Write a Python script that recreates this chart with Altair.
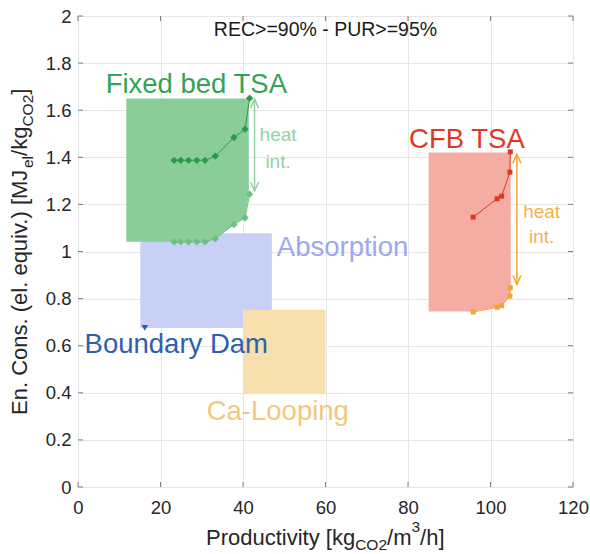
import altair as alt
import pandas as pd

FONT = "Liberation Sans"
W, H = 495, 471

# ---- fixed-bed TSA: without / with heat integration -------------------------
fb_x = [23.3, 24.9, 26.8, 28.8, 30.8, 33.3, 37.8, 40.5, 41.6]
fb_y_noint = [1.387, 1.387, 1.387, 1.387, 1.387, 1.405, 1.484, 1.519, 1.651]
fb_y_int = [1.041, 1.041, 1.041, 1.041, 1.041, 1.054, 1.115, 1.143, 1.243]
# envelope of the fixed-bed region
fb_env_x = [11.7, 30.8, 33.3, 37.8, 40.5, 41.4]
fb_env_low = [1.041, 1.041, 1.054, 1.115, 1.143, 1.243]
fb_env_high = 1.65

# ---- CFB TSA: without / with heat integration -------------------------------
cfb_x = [95.8, 101.6, 102.7, 104.7, 104.8]
cfb_y_noint = [1.146, 1.224, 1.235, 1.337, 1.423]
cfb_y_int = [0.743, 0.763, 0.770, 0.810, 0.846]
cfb_env_x = [85.0, 95.8, 101.6, 102.7, 104.7, 104.9]
cfb_env_low = [0.745, 0.745, 0.763, 0.770, 0.810, 0.846]
cfb_env_high = 1.42

# ---- benchmark technologies ---------------------------------------------------
bench_names = ["Absorption", "Ca-Looping"]
bench_x1 = [15.1, 40.0]
bench_x2 = [47.0, 60.0]
bench_y1 = [0.675, 0.396]
bench_y2 = [1.077, 0.753]
bench_colors = ["#c8d0f6", "#f7dfae"]

boundary_dam_x = [16.2]
boundary_dam_y = [0.676]

# ---- heat-integration arrows -------------------------------------------------
arrow_x = [42.8, 106.4]
arrow_top = [1.647, 1.413]
arrow_bottom = [1.257, 0.86]
arrow_colors = ["#94d3a4", "#f5a52f"]

x_ticks = [0, 20, 40, 60, 80, 100, 120]
y_ticks = [0, 0.2, 0.4, 0.6, 0.8, 1.0, 1.2, 1.4, 1.6, 1.8, 2.0]

GREEN_DARK = "#2b9a4c"
GREEN_LIGHT = "#6dbf83"
RED = "#e0381f"
ORANGE = "#f5a52f"

xs = alt.Scale(domain=[0, 120], nice=False, zero=False)
ys = alt.Scale(domain=[0, 2], nice=False, zero=False)
x_axis = alt.Axis(values=x_ticks, title=None, grid=True, domain=False, ticks=False,
                  labelPadding=11, labelFontSize=18.5, labelFont=FONT,
                  labelColor="#262626", gridColor="#e6e6e6", labelFlush=False)
y_axis = alt.Axis(values=y_ticks, title=None, grid=True, domain=False, ticks=False,
                  format="~g", labelPadding=7, labelFontSize=18.5, labelFont=FONT,
                  labelColor="#262626", gridColor="#e6e6e6", labelFlush=False)


def X(field, **kw):
    return alt.X(field, type="quantitative", scale=xs, axis=x_axis, **kw)


def Y(field, **kw):
    return alt.Y(field, type="quantitative", scale=ys, axis=y_axis, **kw)


layers = []

# benchmark boxes
bench = pd.DataFrame({"name": bench_names, "x1": bench_x1, "x2": bench_x2,
                      "y1": bench_y1, "y2": bench_y2, "c": bench_colors})
layers.append(alt.Chart(bench).mark_rect().encode(
    x=X("x1"), x2="x2", y=Y("y1"), y2="y2",
    color=alt.Color("c:N", scale=None)))

# fixed-bed and CFB regions
fb_env = pd.DataFrame({"x": fb_env_x, "lo": fb_env_low, "hi": fb_env_high})
layers.append(alt.Chart(fb_env).mark_area(color="#8acd9a", opacity=1).encode(
    x=X("x"), y=Y("hi"), y2="lo"))
cfb_env = pd.DataFrame({"x": cfb_env_x, "lo": cfb_env_low, "hi": cfb_env_high})
layers.append(alt.Chart(cfb_env).mark_area(color="#f5ada3", opacity=1).encode(
    x=X("x"), y=Y("hi"), y2="lo"))


def series(xv, yv, color, shape, size):
    df = pd.DataFrame({"x": xv, "y": yv, "i": range(len(xv))})
    line = alt.Chart(df).mark_line(color=color, strokeWidth=1).encode(
        x=X("x"), y=Y("y"), order="i")
    pts = alt.Chart(df).mark_point(color=color, filled=True, opacity=1,
                                   shape=shape, size=size).encode(x=X("x"), y=Y("y"))
    return [line, pts]


layers += series(fb_x, fb_y_int, GREEN_LIGHT, "diamond", 55)
layers += series(fb_x, fb_y_noint, GREEN_DARK, "diamond", 55)
layers += series(cfb_x, cfb_y_int, ORANGE, "square", 25)
layers += series(cfb_x, cfb_y_noint, RED, "square", 25)

# Boundary Dam plant
bd = pd.DataFrame({"x": boundary_dam_x, "y": boundary_dam_y})
layers.append(alt.Chart(bd).mark_point(shape="triangle-down", filled=True, opacity=1,
                                       color="#2f5fab", size=45).encode(x=X("x"), y=Y("y")))

# heat-integration double arrows
arrows = pd.DataFrame({"x": arrow_x, "top": arrow_top, "bot": arrow_bottom, "c": arrow_colors})
layers.append(alt.Chart(arrows).mark_rule(strokeWidth=1.5).encode(
    x=X("x"), y=Y("top"), y2="bot", color=alt.Color("c:N", scale=None)))
layers.append(alt.Chart(arrows).mark_point(
    shape="M-0.45,1L0,0L0.45,1", filled=False, size=324, strokeWidth=1.5, opacity=1).encode(
    x=X("x"), y=Y("top"), color=alt.Color("c:N", scale=None)))
layers.append(alt.Chart(arrows).mark_point(
    shape="M-0.45,-1L0,0L0.45,-1", filled=False, size=324, strokeWidth=1.5, opacity=1).encode(
    x=X("x"), y=Y("bot"), color=alt.Color("c:N", scale=None)))


def label(text, x, y, color, size, align="left"):
    df = pd.DataFrame({"x": [x], "y": [y], "t": [text]})
    return alt.Chart(df).mark_text(align=align, baseline="alphabetic", font=FONT,
                                   fontSize=size, color=color).encode(
        x=X("x"), y=Y("y"), text="t:N")


layers += [
    label("Fixed bed TSA", 6.7, 1.675, "#33a457", 27.5),
    label("CFB TSA", 108.3, 1.441, RED, 27.5, "right"),
    label("Absorption", 48.2, 0.983, "#9ba9ee", 27.5),
    label("Boundary Dam", 1.6, 0.570, "#2f5fab", 27.5),
    label("Ca-Looping", 31.2, 0.285, "#f1c97c", 27.5),
    label("heat", 48.5, 1.469, "#94d3a4", 19, "center"),
    label("int.", 48.5, 1.356, "#94d3a4", 19, "center"),
    label("heat", 112.4, 1.143, "#f5b04a", 19, "center"),
    label("int.", 112.4, 1.037, "#f5b04a", 19, "center"),
    label("REC>=90% - PUR>=95%", 60.0, 1.913, "#1a1a1a", 19.5, "center"),
]

# inward tick marks on all four sides of the box
xt = pd.DataFrame({"v": x_ticks})
yt = pd.DataFrame({"v": y_ticks})
TICK = "#7f7f7f"
layers += [
    alt.Chart(xt).mark_rule(color=TICK).encode(x=X("v"), y=alt.value(H), y2=alt.value(H - 5)),
    alt.Chart(xt).mark_rule(color=TICK).encode(x=X("v"), y=alt.value(0), y2=alt.value(5)),
    alt.Chart(yt).mark_rule(color=TICK).encode(y=Y("v"), x=alt.value(0), x2=alt.value(5)),
    alt.Chart(yt).mark_rule(color=TICK).encode(y=Y("v"), x=alt.value(W), x2=alt.value(W - 5)),
]

# ---- axis titles with sub/superscripts -------------------------------------
ARIAL = {" ": 278, "(": 333, ")": 333, ".": 278, "/": 278, "[": 278, "]": 278,
         "0": 556, "2": 556, "3": 556, "C": 722, "E": 667, "J": 500, "M": 833,
         "O": 778, "P": 667, "b": 556, "c": 500, "d": 556, "e": 556, "g": 556,
         "h": 556, "i": 222, "k": 500, "l": 222, "m": 833, "n": 556, "o": 556,
         "q": 556, "r": 333, "s": 500, "t": 278, "u": 556, "v": 500, "y": 500}


def text_width(s, size):
    return sum(ARIAL.get(ch, 556) for ch in s) * size / 1000.0


TITLE = 22
SUB = 15.5
x_title = [("Productivity [kg", TITLE, 0), ("CO2", SUB, 5), ("/m", TITLE, 0),
           ("3", SUB, -13), ("/h]", TITLE, 0)]
y_title = [("En. Cons. (el. equiv.) [MJ", TITLE, 0), ("el", SUB, 6), ("/kg", TITLE, 0),
           ("CO2", SUB, 6), ("]", TITLE, 0)]


def piece(text, px, py, size, angle=0):
    return alt.Chart(alt.Data(values=[{"t": text}])).mark_text(
        align="left", baseline="alphabetic", font=FONT, fontSize=size,
        color="#262626", angle=angle).encode(
        x=alt.value(px), y=alt.value(py), text="t:N")


cx = 128.0
for txt, size, shift in x_title:
    layers.append(piece(txt, cx, 528.5 + shift, size))
    cx += text_width(txt, size)

cy = 399.0
for txt, size, shift in y_title:
    layers.append(piece(txt, -51 + shift, cy, size, 270))
    cy -= text_width(txt, size)

chart = alt.layer(*layers).properties(
    width=W, height=H,
    autosize=alt.AutoSizeParams(type="none"),
    padding={"left": 78, "top": 16, "right": 17, "bottom": 67},
    background="white",
).configure_view(stroke="#7f7f7f", strokeWidth=1)

chart.save("out.html", embed_options={"renderer": "svg", "actions": False})
